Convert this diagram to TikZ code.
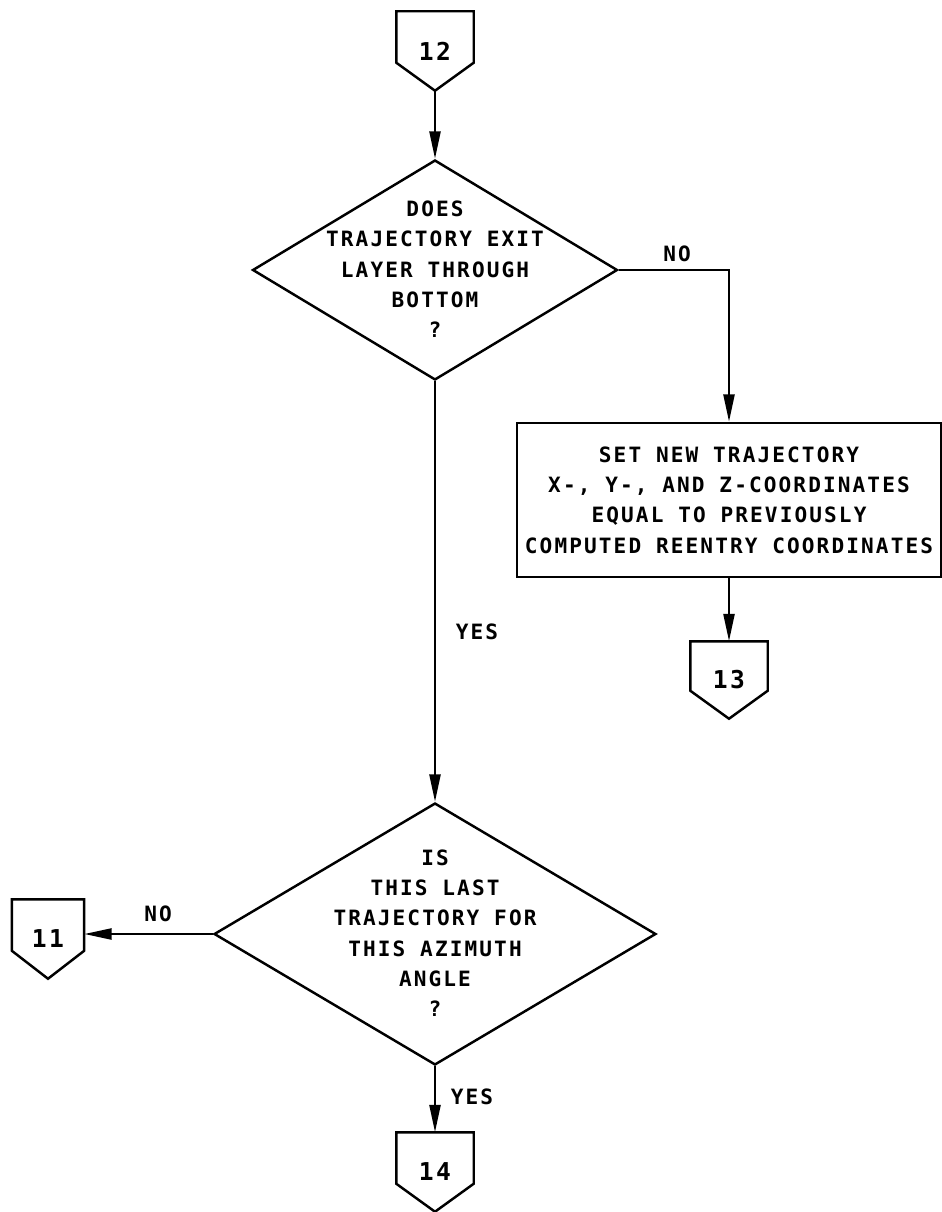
\documentclass[tikz,border=0pt]{standalone}
\usepackage{fontspec}
\setmainfont{DejaVu Sans Mono}[LetterSpace=10]
\usetikzlibrary{shapes.geometric,arrows.meta}

% texto de la decision sin que cambie el tamano del rombo
\newcommand{\qtext}[1]{\makebox[0pt]{\smash{\raisebox{-3.6pt}{\begin{tabular}{@{}c@{}}#1\end{tabular}}}}}

\begin{document}
\begin{tikzpicture}[x=0.02cm, y=-0.02cm, >={Triangle[length=0.55cm, width=0.22cm]},
    line width=1.4pt, every node/.style={font=\bfseries\fontsize{12}{17.2}\selectfont}]

\tikzset{
    decision/.style={draw, diamond, inner sep=0pt},
    process/.style={draw, rectangle, align=center, inner sep=0pt},
    offpage/.style={minimum width=1.5cm, minimum height=1.54cm, inner sep=0pt,
        font=\bfseries\fontsize{14}{16}\selectfont}
}

\useasboundingbox (0,0) rectangle (941,1212);

% =============================================
% Conectores de pagina
% =============================================
\node[offpage] (c12) at (435,51) {12};
\node[offpage, minimum height=1.5cm] (c13) at (729,680) {13};
\node[offpage, minimum width=1.4cm] (c11) at (48,939) {11};
\node[offpage] (c14) at (435,1172) {14};

\foreach \c in {c11,c12,c13,c14}
    \draw (\c.north west) -- (\c.north east) -- ([yshift=0.56cm]\c.south east)
        -- (\c.south) -- ([yshift=0.56cm]\c.south west) -- cycle;

% =============================================
% Decisiones y proceso
% =============================================
\node[decision, minimum width=7.3cm, minimum height=4.4cm] (exit) at (435,270)
    {\qtext{DOES\\TRAJECTORY EXIT\\LAYER THROUGH\\BOTTOM\\?}};

\node[process, minimum width=8.48cm, minimum height=3.08cm] (reset) at (729,500)
    {SET NEW TRAJECTORY\\X-, Y-, AND Z-COORDINATES\\EQUAL TO PREVIOUSLY\\COMPUTED REENTRY COORDINATES};

\node[decision, minimum width=8.84cm, minimum height=5.24cm] (last) at (435,934)
    {\qtext{IS\\THIS LAST\\TRAJECTORY FOR\\THIS AZIMUTH\\ANGLE\\?}};

% =============================================
% Flechas y etiquetas
% =============================================
\draw[->] (c12.south) -- (exit.north);
\draw[->] (exit.east) -| (reset.north);
\draw[->] (reset.south) -- (c13.north);
\draw[->] (exit.south) -- (last.north);
\draw[->] (last.west) -- (last.west -| c11.east);
\draw[->] (last.south) -- (c14.north);

\node (no1) at (677,254) {NO};
\node (yes1) at (477,632) {YES};
\node (no2) at (158,914) {NO};
\node (yes2) at (472,1097) {YES};

\end{tikzpicture}
\end{document}
